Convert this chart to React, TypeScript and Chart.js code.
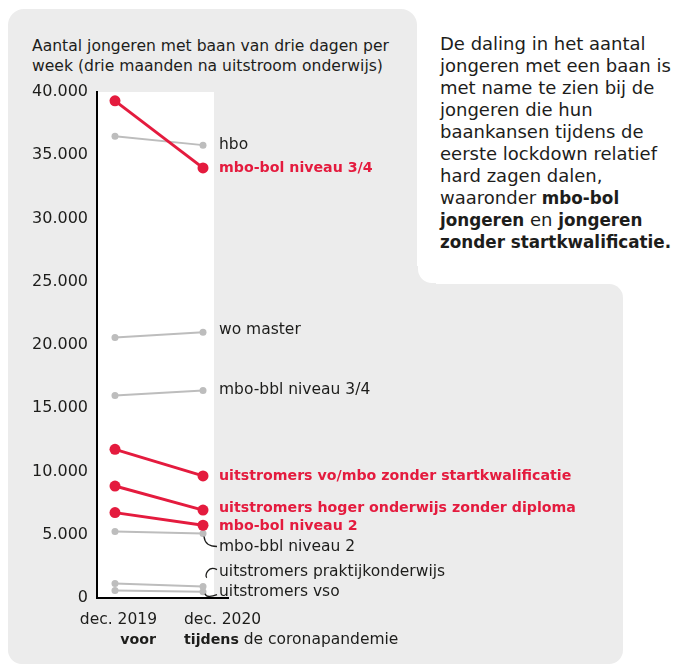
import React, { useEffect, useRef } from 'react';
import { Chart, registerables } from 'chart.js';
Chart.register(...registerables);

// ---- data ----
const periods = ['dec. 2019', 'dec. 2020'];
const periodNotesBold = ['voor', 'tijdens'];
const periodNotesRest = ['', ' de coronapandemie'];

const seriesNames = [
  'hbo',
  'mbo-bol niveau 3/4',
  'wo master',
  'mbo-bbl niveau 3/4',
  'uitstromers vo/mbo zonder startkwalificatie',
  'uitstromers hoger onderwijs zonder diploma',
  'mbo-bol niveau 2',
  'mbo-bbl niveau 2',
  'uitstromers praktijkonderwijs',
  'uitstromers vso',
];
const hbo = [36500, 35800];
const mboBol34 = [39300, 34000];
const woMaster = [20600, 21000];
const mboBbl34 = [16000, 16400];
const voMboZonderSk = [11750, 9650];
const hogerZonderDiploma = [8850, 6950];
const mboBol2 = [6750, 5750];
const mboBbl2 = [5250, 5100];
const praktijk = [1150, 900];
const vso = [600, 500];
const seriesValues = [hbo, mboBol34, woMaster, mboBbl34, voMboZonderSk, hogerZonderDiploma, mboBol2, mboBbl2, praktijk, vso];
const highlighted = [false, true, false, false, true, true, true, false, false, false];
const yTicks = [0, 5000, 10000, 15000, 20000, 25000, 30000, 35000, 40000];

// ---- layout / style (not data) ----
const RED = '#e41b3e';
const GRAY = '#bdbdbd';
const DARK = '#1d1d1b';
const BG = '#ececec';
const FONT = '"DejaVu Sans", sans-serif';
const REG = '15.5px ' + FONT;
const BOLD = 'bold 14.2px ' + FONT;
const labelDy = [0, 0, -2, -1, 0, -2, 1, 13, -15, 0];
const connector = ['', '', '', '', '', '', '', 'down', 'up', 'under'];

const fmt = (v: number) => String(v).replace(/\B(?=(\d{3})+(?!\d))/g, '.');

const labelsPlugin = {
  id: 'slopeLabels',
  beforeDraw(chart: any) {
    const { ctx, chartArea, scales } = chart;
    const xr = scales.x.getPixelForValue(1) + 11;
    ctx.save();
    ctx.fillStyle = '#ffffff';
    ctx.fillRect(chartArea.left, chartArea.top, xr - chartArea.left, chartArea.bottom - chartArea.top);
    ctx.restore();
  },
  afterDatasetsDraw(chart: any) {
    const { ctx, scales, chartArea } = chart;
    ctx.save();
    ctx.textBaseline = 'middle';
    ctx.textAlign = 'left';
    seriesNames.forEach((name, i) => {
      const pt = chart.getDatasetMeta(i).data[1];
      if (!pt) return;
      const px = pt.x;
      const py = pt.y;
      const ly = py + labelDy[i];
      const lx = px + 16;
      ctx.font = highlighted[i] ? BOLD : REG;
      ctx.fillStyle = highlighted[i] ? RED : DARK;
      ctx.fillText(name, lx, ly);
      ctx.strokeStyle = DARK;
      ctx.lineWidth = 1.3;
      if (connector[i] === 'down') {
        ctx.beginPath();
        ctx.moveTo(px + 1, py + 3);
        ctx.quadraticCurveTo(px + 2, ly, lx - 2, ly);
        ctx.stroke();
      } else if (connector[i] === 'up') {
        ctx.beginPath();
        ctx.moveTo(lx - 2, ly - 2);
        ctx.bezierCurveTo(px + 5, ly - 7, px + 1, ly + 5, px + 4, ly + 6);
        ctx.stroke();
      } else if (connector[i] === 'under') {
        ctx.beginPath();
        ctx.moveTo(px + 2, py + 2);
        ctx.quadraticCurveTo(px + 4, ly + 7, lx - 2, ly + 3);
        ctx.stroke();
      }
    });
    // period labels
    const y1 = chartArea.bottom + 22;
    const y2 = chartArea.bottom + 42;
    const x0 = scales.x.getPixelForValue(0);
    const x1 = scales.x.getPixelForValue(1);
    ctx.fillStyle = DARK;
    ctx.font = REG;
    ctx.textAlign = 'right';
    ctx.fillText(periods[0], x0 + 42, y1);
    ctx.font = BOLD;
    ctx.fillText(periodNotesBold[0] + periodNotesRest[0], x0 + 41, y2);
    ctx.textAlign = 'left';
    ctx.font = REG;
    ctx.fillText(periods[1], x1 - 19, y1);
    ctx.font = BOLD;
    ctx.fillText(periodNotesBold[1], x1 - 19, y2);
    const w = ctx.measureText(periodNotesBold[1]).width;
    ctx.font = REG;
    ctx.fillText(periodNotesRest[1], x1 - 19 + w, y2);
    ctx.restore();
  },
};

function SlopeChart() {
  const ref = useRef<HTMLCanvasElement>(null);
  useEffect(() => {
    if (!ref.current) return;
    const datasets = seriesNames.map((name, i) => ({
      label: name,
      data: seriesValues[i].map((v, j) => ({ x: j, y: v })),
      borderColor: highlighted[i] ? RED : GRAY,
      backgroundColor: highlighted[i] ? RED : GRAY,
      borderWidth: highlighted[i] ? 3 : 2,
      pointRadius: highlighted[i] ? 5.5 : 3.5,
      pointBorderWidth: 0,
      pointHoverRadius: 5,
      order: highlighted[i] ? 0 : 1,
      clip: false as any,
    }));
    const chart = new Chart(ref.current, {
      type: 'line',
      data: { datasets },
      options: {
        animation: false,
        responsive: false,
        maintainAspectRatio: false,
        layout: { padding: { top: 92, left: 0, right: 470, bottom: 66 } },
        plugins: { legend: { display: false }, tooltip: { enabled: false } },
        scales: {
          x: {
            type: 'linear',
            min: -0.2045,
            max: 1.284,
            ticks: { display: false },
            grid: { display: false, drawTicks: false },
            border: { display: true, color: '#000', width: 2 },
            afterFit: (s: any) => { s.height = 0; },
          },
          y: {
            type: 'linear',
            min: 0,
            max: 40000,
            afterBuildTicks: (s: any) => { s.ticks = yTicks.map((v) => ({ value: v })); },
            ticks: {
              color: DARK,
              font: { family: FONT, size: 16 },
              padding: 9,
              callback: (v: any) => fmt(Number(v)),
            },
            grid: { display: false, drawTicks: false },
            border: { display: true, color: '#000', width: 2 },
            afterFit: (s: any) => { s.width = 97; },
          },
        },
      },
      plugins: [labelsPlugin],
    });
    return () => chart.destroy();
  }, []);
  return <canvas ref={ref} width={698} height={664} style={{ position: 'absolute', left: 0, top: 0, width: 698, height: 664 }} />;
}

export default function App() {
  return (
    <div style={{ position: 'fixed', left: 0, top: 0, width: 698, height: 664, overflow: 'hidden', background: '#fff', fontFamily: FONT, color: DARK }}>
      <div style={{ position: 'absolute', left: 8, top: 9, width: 409, height: 655, borderRadius: 16, background: BG }} />
      <div style={{ position: 'absolute', left: 8, top: 284, width: 615, height: 380, borderRadius: 14, background: BG }} />
      <div style={{ position: 'absolute', left: 400, top: 266, width: 36, height: 34, background: BG }} />
      <div style={{ position: 'absolute', left: 418, top: -30, width: 300, height: 313, borderRadius: 14, background: '#fff' }} />
      <div style={{ position: 'absolute', left: 32, top: 36, fontSize: 15.6, lineHeight: '20px', whiteSpace: 'nowrap' }}>
        Aantal jongeren met baan van drie dagen per<br />week (drie maanden na uitstroom onderwijs)
      </div>
      <div style={{ position: 'absolute', left: 440, top: 33, fontSize: 18, lineHeight: '22px', whiteSpace: 'nowrap' }}>
        De daling in het aantal<br />
        jongeren met een baan is<br />
        met name te zien bij de<br />
        jongeren die hun<br />
        baankansen tijdens de<br />
        eerste lockdown relatief<br />
        hard zagen dalen,<br />
        waaronder <b style={{ fontSize: 16.8 }}>mbo-bol</b><br />
        <b style={{ fontSize: 16.8 }}>jongeren</b> en <b style={{ fontSize: 16.8 }}>jongeren</b><br />
        <b style={{ fontSize: 16.8 }}>zonder startkwalificatie.</b>
      </div>
      <SlopeChart />
    </div>
  );
}
